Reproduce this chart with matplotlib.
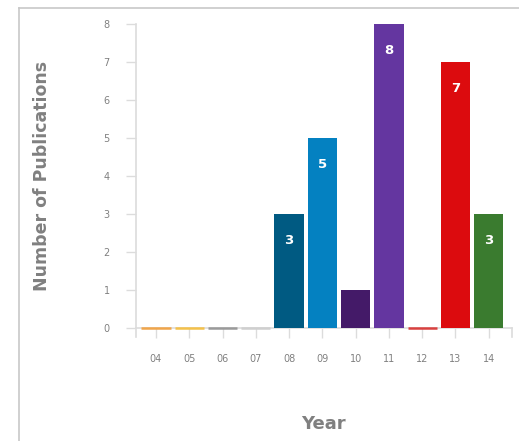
import matplotlib.pyplot as plt
from matplotlib.lines import Line2D

# publicaciones por año
years = ["04", "05", "06", "07", "08", "09", "10", "11", "12", "13", "14"]
counts = [0, 0, 0, 0, 3, 5, 1, 8, 0, 7, 3]
colors = ["#f0a54a", "#f4c14a", "#9a9a9a", "#cfcfcf", "#005a82", "#0481c1",
          "#441a68", "#6436a0", "#d9403f", "#dc0b0e", "#3a7b2f"]
# etiquetas sobre las barras
labeled = [4, 5, 7, 9, 10]

fig = plt.figure(figsize=(5.19, 4.41), dpi=100)
ax = fig.add_axes([136/519, 1 - 328/441, (512 - 136)/519, (328 - 24)/441])

x = list(range(len(years)))
w = 0.88
ax.bar(x, counts, width=w, color=colors, linewidth=0, zorder=3)

# las barras en cero se ven como una línea fina del color del año
zeros = [i for i, c in enumerate(counts) if c == 0]
ax.hlines([counts[i] for i in zeros], [x[i] - w/2 for i in zeros], [x[i] + w/2 for i in zeros],
          colors=[colors[i] for i in zeros], linewidth=1.8, zorder=4, clip_on=False)

for i in labeled:
    ax.annotate(str(counts[i]), (x[i], counts[i]), xytext=(0, -19), textcoords="offset points",
                ha="center", va="center", color="white", fontsize=9.5, fontweight="bold", zorder=4)

grey = "#dcdcdc"
ax.set_xlim(-0.6, 10.7)
ax.set_ylim(0, 8)
ax.set_xticks(x)
ax.set_xticklabels(years)
ax.set_yticks(range(9))
for s in ["top", "right"]:
    ax.spines[s].set_visible(False)
for s in ["left", "bottom"]:
    ax.spines[s].set_color(grey)
    ax.spines[s].set_linewidth(1.2)
ax.tick_params(axis="both", colors=grey, labelcolor="#808080", labelsize=7, length=7, width=1)
ax.tick_params(axis="x", pad=12)
ax.tick_params(axis="y", pad=12)

# marcas en los extremos del eje x
for xe in (-0.6, 10.7):
    ax.add_line(Line2D([xe, xe], [0, -0.24], color=grey, lw=1.2, clip_on=False))

fig.text(42/519, 1 - 176/441, "Number of Publications", rotation=90, ha="center", va="center",
         fontsize=12.5, fontweight="bold", color="#808080")
fig.text(323/519, 1 - 424/441, "Year", ha="center", va="center",
         fontsize=13, fontweight="bold", color="#808080")

# marco del panel
fig.add_artist(Line2D([19/519, 1], [1 - 8/441, 1 - 8/441], color="#c8c8c8", lw=1.2))
fig.add_artist(Line2D([19/519, 19/519], [0, 1 - 8/441], color="#c8c8c8", lw=1.2))

fig.savefig("out.png", dpi=100)
